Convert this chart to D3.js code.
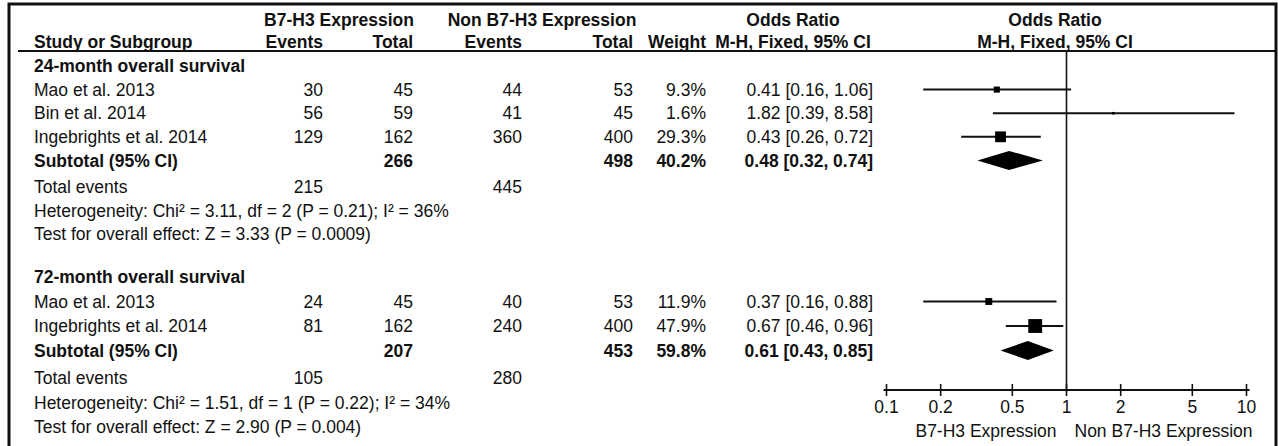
<!DOCTYPE html>
<html><head><meta charset="utf-8">
<script src="https://cdn.jsdelivr.net/npm/d3@7"></script>
<style>
html,body{margin:0;padding:0;background:#fff;}
svg text{font-family:"Liberation Sans",Arial,sans-serif;font-size:17.5px;fill:#111;}
svg text.b{font-weight:bold;}
</style></head>
<body><svg id="c" width="1278" height="446"></svg>
<script>
// ---- data ----
const groupTitles = ["24-month overall survival", "72-month overall survival"];
const studyNames = [["Mao et al. 2013", "Bin et al. 2014", "Ingebrights et al. 2014"], ["Mao et al. 2013", "Ingebrights et al. 2014"]];
const expEvents = [[30, 56, 129], [24, 81]];
const expTotal = [[45, 59, 162], [45, 162]];
const ctrlEvents = [[44, 41, 360], [40, 240]];
const ctrlTotal = [[53, 45, 400], [53, 400]];
const weights = [[9.3, 1.6, 29.3], [11.9, 47.9]];
const oddsRatio = [[0.41, 1.82, 0.43], [0.37, 0.67]];
const ciLow = [[0.16, 0.39, 0.26], [0.16, 0.46]];
const ciHigh = [[1.06, 8.58, 0.72], [0.88, 0.96]];
const subExpTotal = [266, 207];
const subCtrlTotal = [498, 453];
const subWeight = [40.2, 59.8];
const subOR = [0.48, 0.61];
const subLow = [0.32, 0.43];
const subHigh = [0.74, 0.85];
const totExpEvents = [215, 105];
const totCtrlEvents = [445, 280];
const heterogeneity = ["Heterogeneity: Chi\u00b2 = 3.11, df = 2 (P = 0.21); I\u00b2 = 36%", "Heterogeneity: Chi\u00b2 = 1.51, df = 1 (P = 0.22); I\u00b2 = 34%"];
const overallEffect = ["Test for overall effect: Z = 3.33 (P = 0.0009)", "Test for overall effect: Z = 2.90 (P = 0.004)"];
const axisTicks = [0.1, 0.2, 0.5, 1, 2, 5, 10];
const axisTickLabels = ["0.1", "0.2", "0.5", "1", "2", "5", "10"];
const favourLabels = ["B7-H3 Expression", "Non B7-H3 Expression"];
const headerTop = ["B7-H3 Expression", "Non B7-H3 Expression", "Odds Ratio", "Odds Ratio"];
const headerBottom = ["Study or Subgroup", "Events", "Total", "Events", "Total", "Weight", "M-H, Fixed, 95% CI", "M-H, Fixed, 95% CI"];

// ---- layout ----
const svg = d3.select("#c");
const fmt = d3.format(".2f");
const pct = v => d3.format(".1f")(v) + "%";
const orText = (o, l, h) => `${fmt(o)} [${fmt(l)}, ${fmt(h)}]`;

const colStudy = 34, colEE = 323, colET = 413, colCE = 522, colCT = 633, colW = 706, colOR = 873;
const x = d3.scaleLog().domain([0.1, 10]).range([886.5, 1246.5]);
const box = d3.scaleSqrt().domain([0, 100]).range([0, 20]);

const groupStart = [66, 277], groupStep = [23.6, 24.5], totalsGap = [3, 3];
const rowY = (g, i, extra) => groupStart[g] + groupStep[g] * i + (extra ? totalsGap[g] : 0);
const axisY = 390, tickLabY = 407, legendY = 431;
const textDy = "0.35em";

// border
svg.append("path").attr("d", "M9,460 V4 H1276 V460").attr("fill", "none").attr("stroke", "#111").attr("stroke-width", 3);

function txt(xp, yp, s, anchor, bold) {
  return svg.append("text").attr("x", xp).attr("y", yp).attr("dy", textDy)
    .attr("text-anchor", anchor).attr("class", bold ? "b" : null).text(s);
}

// headers
txt((265 + colET) / 2, 20, headerTop[0], "middle", true);
txt((447 + 637) / 2, 20, headerTop[1], "middle", true);
txt(793, 20, headerTop[2], "middle", true);
txt(1055, 20, headerTop[3], "middle", true);
txt(colStudy, 42, headerBottom[0], "start", true);
txt(colEE, 42, headerBottom[1], "end", true);
txt(colET, 42, headerBottom[2], "end", true);
txt(colCE, 42, headerBottom[3], "end", true);
txt(colCT, 42, headerBottom[4], "end", true);
txt(colW, 42, headerBottom[5], "end", true);
txt(793, 42, headerBottom[6], "middle", true);
txt(1055, 42, headerBottom[7], "middle", true);
svg.append("line").attr("x1", 18).attr("x2", 1276).attr("y1", 51).attr("y2", 51).attr("stroke", "#111").attr("stroke-width", 2);

// null line
svg.append("line").attr("x1", x(1)).attr("x2", x(1)).attr("y1", 51).attr("y2", axisY).attr("stroke", "#111").attr("stroke-width", 1.6);

groupTitles.forEach((title, g) => {
  txt(colStudy, rowY(g, 0), title, "start", true);
  const n = studyNames[g].length;
  studyNames[g].forEach((name, i) => {
    const yy = rowY(g, i + 1);
    txt(colStudy, yy, name, "start");
    txt(colEE, yy, expEvents[g][i], "end");
    txt(colET, yy, expTotal[g][i], "end");
    txt(colCE, yy, ctrlEvents[g][i], "end");
    txt(colCT, yy, ctrlTotal[g][i], "end");
    txt(colW, yy, pct(weights[g][i]), "end");
    txt(colOR, yy, orText(oddsRatio[g][i], ciLow[g][i], ciHigh[g][i]), "end");
    svg.append("line").attr("x1", x(ciLow[g][i])).attr("x2", x(ciHigh[g][i]))
      .attr("y1", yy).attr("y2", yy).attr("stroke", "#111").attr("stroke-width", 2);
    const s = box(weights[g][i]);
    svg.append("rect").attr("x", x(oddsRatio[g][i]) - s / 2).attr("y", yy - s / 2)
      .attr("width", s).attr("height", s).attr("fill", "#000");
  });
  const ys = rowY(g, n + 1);
  txt(colStudy, ys, "Subtotal (95% CI)", "start", true);
  txt(colET, ys, subExpTotal[g], "end", true);
  txt(colCT, ys, subCtrlTotal[g], "end", true);
  txt(colW, ys, pct(subWeight[g]), "end", true);
  txt(colOR, ys, orText(subOR[g], subLow[g], subHigh[g]), "end", true);
  const h = 9.5;
  svg.append("path").attr("d", `M${x(subLow[g])},${ys} L${x(subOR[g])},${ys - h} L${x(subHigh[g])},${ys} L${x(subOR[g])},${ys + h} Z`).attr("fill", "#000");
  const yt = rowY(g, n + 2, true);
  txt(colStudy, yt, "Total events", "start");
  txt(colEE, yt, totExpEvents[g], "end");
  txt(colCE, yt, totCtrlEvents[g], "end");
  txt(colStudy, rowY(g, n + 3, true), heterogeneity[g], "start");
  txt(colStudy, rowY(g, n + 4, true), overallEffect[g], "start");
});

// axis
svg.append("line").attr("x1", x(0.1) - 3).attr("x2", x(10) + 3).attr("y1", axisY).attr("y2", axisY).attr("stroke", "#111").attr("stroke-width", 2);
axisTicks.forEach((t, i) => {
  svg.append("line").attr("x1", x(t)).attr("x2", x(t)).attr("y1", axisY - 6).attr("y2", axisY + 6).attr("stroke", "#111").attr("stroke-width", 1.6);
  txt(x(t), tickLabY, axisTickLabels[i], "middle");
});
txt(x(1) - 10, legendY, favourLabels[0], "end");
txt(x(1) + 8, legendY, favourLabels[1], "start");
</script></body></html>
